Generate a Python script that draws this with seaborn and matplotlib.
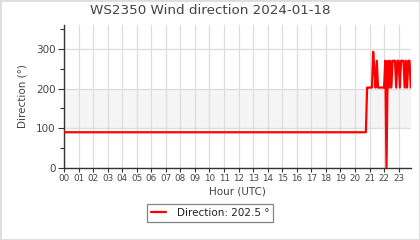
import matplotlib
matplotlib.use("Agg")
import matplotlib.pyplot as plt
import seaborn as sns
import pandas as pd
from matplotlib.ticker import MultipleLocator
from matplotlib.patches import Rectangle

# ---- data ----
title = "WS2350 Wind direction 2024-01-18"
hours = [0.0, 20.75, 20.833, 20.917, 21.0, 21.083, 21.167, 21.25, 21.333, 21.417,
         21.5, 21.583, 21.667, 21.75, 21.833, 21.917, 22.0, 22.083, 22.167, 22.25,
         22.333, 22.417, 22.5, 22.583, 22.667, 22.75, 22.833, 22.917, 23.0, 23.083,
         23.167, 23.25, 23.333, 23.417, 23.5, 23.583, 23.667, 23.75, 23.833]
direction = [90, 90, 202.5, 202.5, 202.5, 202.5, 202.5, 292.5, 247.5, 202.5,
             270, 202.5, 202.5, 202.5, 202.5, 202.5, 202.5, 270, 0, 270,
             202.5, 270, 202.5, 270, 270, 270, 202.5, 270, 270, 202.5,
             270, 270, 270, 202.5, 270, 202.5, 270, 270, 202.5]
hour_labels = [f"{h:02d}" for h in range(24)]
legend_label = "Direction: 202.5 °"

df = pd.DataFrame({"hour": hours, "direction": direction})

sns.set_theme(style="white")
plt.rcParams["font.family"] = ["DejaVu Sans"]

fig = plt.figure(figsize=(4.2, 2.4), dpi=100)
ax = fig.add_axes([64 / 420, 1 - 168 / 240, (411 - 64) / 420, (168 - 25) / 240])

ax.axhspan(100, 200, color="#f5f5f5", zorder=0, lw=0)
sns.lineplot(data=df, x="hour", y="direction", ax=ax, color="red", lw=1.6,
             label=legend_label, zorder=3)

ax.set_xlim(0, 23.85)
ax.set_ylim(0, 360)
ax.set_xticks(range(24))
ax.set_xticklabels(hour_labels)
ax.yaxis.set_major_locator(MultipleLocator(100))
ax.yaxis.set_minor_locator(MultipleLocator(50))
ax.grid(True, which="major", color="#dddddd", lw=0.9, zorder=1)
ax.set_axisbelow(True)

for s in ["top", "right"]:
    ax.spines[s].set_visible(False)
for s in ["left", "bottom"]:
    ax.spines[s].set_color("#333333")
    ax.spines[s].set_linewidth(1.0)

ax.tick_params(axis="y", which="major", left=True, length=4, width=0.8,
               color="#333333", labelsize=7.5, labelcolor="#444444", pad=2)
ax.tick_params(axis="y", which="minor", left=True, length=3, width=0.8, color="#333333")
ax.tick_params(axis="x", which="major", bottom=True, length=3, width=0.8,
               color="#333333", labelsize=6.3, labelcolor="#444444", pad=1.5)

ax.set_xlabel("Hour (UTC)", fontsize=7.5, color="#444444", labelpad=2)
ax.set_ylabel("Direction (°)", fontsize=7.5, color="#444444", labelpad=6)
fig.text(0.5, 1 - 11 / 240, title, ha="center", va="center", fontsize=9.7, color="#444444")

leg = ax.legend(loc="center", bbox_to_anchor=(210 / 420, 1 - 213 / 240),
                bbox_transform=fig.transFigure, fontsize=7.5, frameon=True,
                fancybox=False, edgecolor="#666666", handlelength=1.5,
                borderpad=0.4, handletextpad=1.0)
leg.get_frame().set_linewidth(0.9)
for t in leg.get_texts():
    t.set_color("#222222")

fig.patches.append(Rectangle((0, 0), 1, 1, transform=fig.transFigure, fill=False,
                             edgecolor="#dddddd", lw=2, zorder=10))

fig.savefig("out.png", dpi=100)
